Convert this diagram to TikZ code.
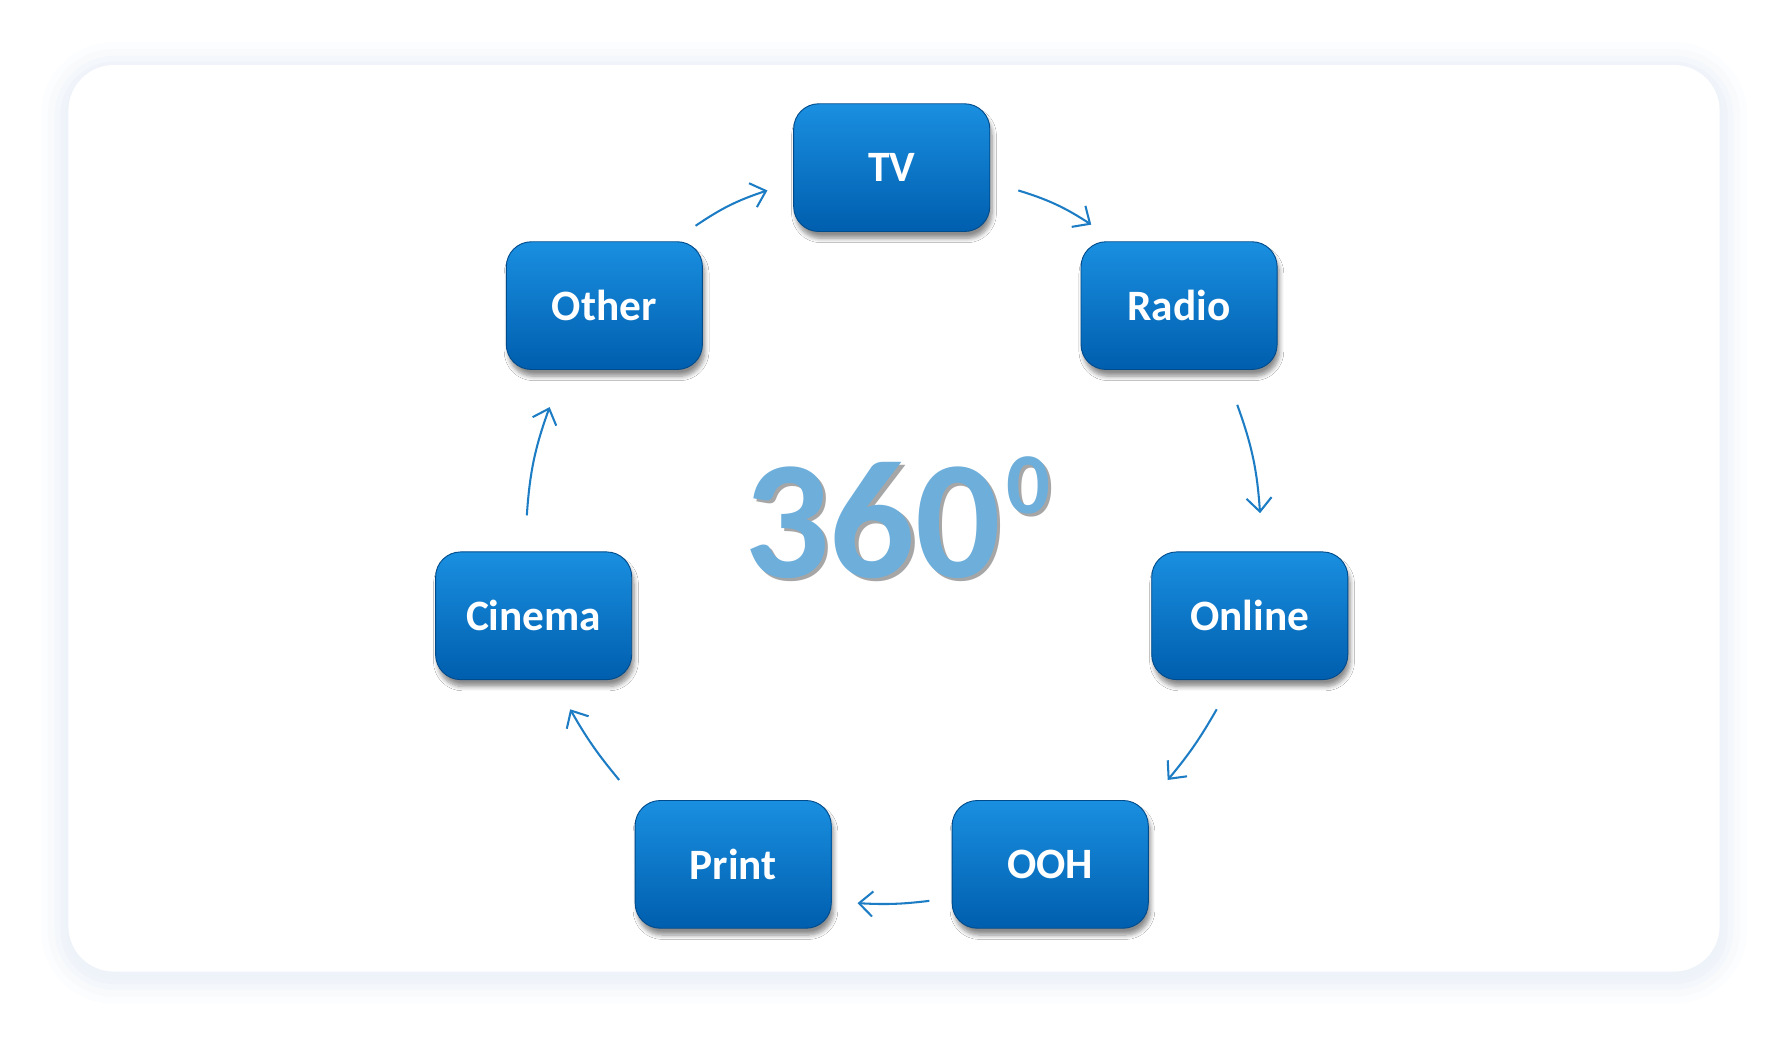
\documentclass[tikz,border=0pt]{standalone}
\usepackage{fontspec}
\setmainfont{Carlito}
\usetikzlibrary{arrows.meta,shadows.blur}
\definecolor{boxtop}{HTML}{1A8FE0}
\definecolor{boxbot}{HTML}{005EAE}
\definecolor{arr}{HTML}{1C7CC4}
\definecolor{big}{HTML}{6DAEDB}
\definecolor{bg}{HTML}{EEF3FA}
\tikzset{
 media/.style={rounded corners=11pt, minimum width=86pt, minimum height=56pt, top color=boxtop, bottom color=boxbot, draw=boxbot!80!black, line width=0.4pt, text=white, font=\bfseries\fontsize{19}{20}\selectfont, blur shadow={shadow xshift=1pt, shadow yshift=-3pt, shadow blur steps=6, shadow opacity=45}},
 flow/.style={draw=arr, line width=0.9pt, -{Straight Barb[length=6pt,width=11pt]}},
 bigtxt/.style={font=\bfseries\fontsize{74}{74}\selectfont, anchor=base, inner sep=0pt},
 suptxt/.style={font=\bfseries\fontsize{38}{38}\selectfont, anchor=base west, inner sep=0pt}
}
\begin{document}
\begin{tikzpicture}[x=0.5pt,y=-0.5pt]
\useasboundingbox (0,0) rectangle (1561,912);
\fill[white] (0,0) rectangle (1561,912);
\foreach \d/\o in {24/0.15,18/0.25,12/0.4,7/0.6,3/0.8}{
 \fill[bg, opacity=\o, rounded corners={20pt+\d*0.5pt}] (60-\d,57-\d+4) rectangle (1508+\d,852+\d+4);
}
\fill[rounded corners=20pt, white] (60,57) rectangle (1508,852);
\node[media] (tv) at (782,147) {TV};
\node[media] (radio) at (1034,268) {Radio};
\node[media] (other) at (530,268) {Other};
\node[media] (online) at (1096,540) {Online};
\node[media] (cinema) at (468,540) {Cinema};
\node[media] (ooh) at (921,758) {OOH};
\node[media] (print) at (643,758) {Print};
\node[bigtxt, text=black!35] (degs) at (768,509) {360};
\node[suptxt, text=black!35] (sups) at ([xshift=2pt]degs.base east) [yshift=28pt] {0};
\node[bigtxt, text=big] (deg) at (765,506) {360};
\node[suptxt, text=big] (sup) at ([xshift=2pt]deg.base east) [yshift=28pt] {0};
\coordinate (a1) at (893,167); \coordinate (b1) at (957,197);
\coordinate (a2) at (1085,355); \coordinate (b2) at (1105,450);
\coordinate (a3) at (1067,622); \coordinate (b3) at (1024,684);
\coordinate (a4) at (815,790); \coordinate (b4) at (752,792);
\coordinate (a5) at (543,684); \coordinate (b5) at (500,622);
\coordinate (a6) at (462,452); \coordinate (b6) at (482,357);
\coordinate (a7) at (610,198); \coordinate (b7) at (673,167);
\draw[flow] (a1) to[bend left=8] (b1);
\draw[flow] (a2) to[bend left=8] (b2);
\draw[flow] (a3) to[bend left=5] (b3);
\draw[flow] (a4) to[bend left=5] (b4);
\draw[flow] (a5) to[bend left=5] (b5);
\draw[flow] (a6) to[bend left=8] (b6);
\draw[flow] (a7) to[bend left=8] (b7);
\end{tikzpicture}
\end{document}
